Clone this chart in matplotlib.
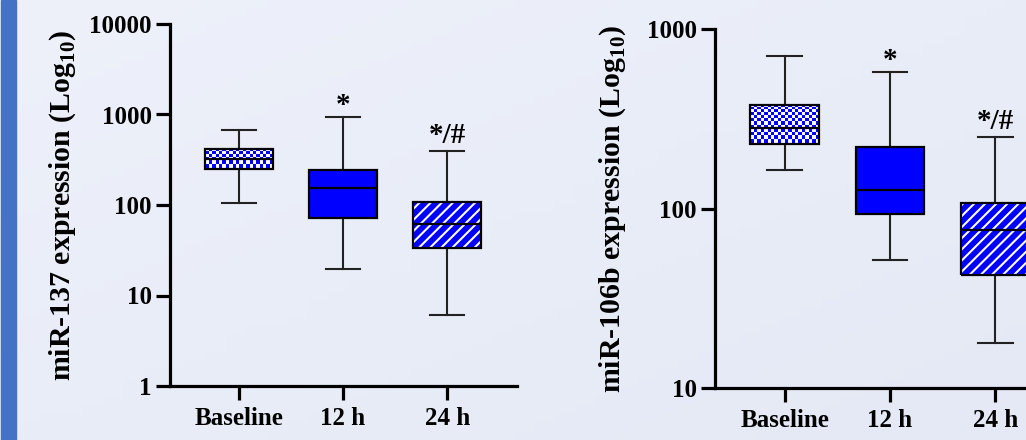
import numpy as np
import matplotlib
matplotlib.use("Agg")
import matplotlib.pyplot as plt
from matplotlib.colors import ListedColormap, LinearSegmentedColormap
from matplotlib.patches import PathPatch, Rectangle

plt.rcParams['font.family'] = ['Liberation Serif', 'DejaVu Serif']
plt.rcParams['font.weight'] = 'bold'
plt.rcParams['mathtext.fontset'] = 'custom'
plt.rcParams['mathtext.rm'] = 'Liberation Serif'
plt.rcParams['mathtext.bf'] = 'Liberation Serif:bold'
plt.rcParams['hatch.linewidth'] = 1.5

groups = ["Baseline", "12 h", "24 h"]
marks = ["", "*", "*/#"]

# miR-137 (left panel)
m137_lo = [106, 19.8, 6.1]
m137_q1 = [248, 71, 33.2]
m137_med = [320, 153, 61.7]
m137_q3 = [419, 241, 109]
m137_hi = [680, 946, 392]

# miR-106b (right panel)
m106_lo = [165, 51.8, 17.9]
m106_q1 = [228, 93.3, 42.6]
m106_med = [282, 127, 76.4]
m106_q3 = [378, 221, 108]
m106_hi = [710, 574, 250]

BLUE = '#0000FF'

fig = plt.figure(figsize=(10.26, 4.40), dpi=100)

# background gradient + blue stripe
bg = fig.add_axes([0, 0, 1, 1], zorder=-10)
bg.axis('off')
grad = np.add.outer(np.linspace(0, 1, 50), np.linspace(0, 1, 50)) / 2
bg.imshow(grad, aspect='auto', extent=(0, 1, 0, 1), origin='upper',
          cmap=LinearSegmentedColormap.from_list('bg', ['#EEF1FA', '#E4E9F5']))
bg.add_patch(Rectangle((1 / 1026, 0), 15 / 1026, 1, color='#4472C4'))
bg.set_xlim(0, 1)
bg.set_ylim(0, 1)


def panel(rect, lo, q1, med, q3, hi, ylim, yticks, ylabel, labelpad):
    ax = fig.add_axes(rect)
    ax.patch.set_alpha(0)
    ax.set_yscale('log')
    stats = []
    for i in range(len(groups)):
        stats.append(dict(whislo=lo[i], q1=q1[i], med=med[i], q3=q3[i],
                          whishi=hi[i], label=groups[i]))
    pos = np.arange(len(groups))
    bp = ax.bxp(stats, positions=pos, widths=0.65, patch_artist=True,
                showfliers=False,
                boxprops=dict(facecolor='none', edgecolor='black', linewidth=1.6),
                medianprops=dict(color='black', linewidth=1.6),
                whiskerprops=dict(color='#222222', linewidth=1.5),
                capprops=dict(color='#222222', linewidth=1.5))
    for b in bp['boxes']:
        b.set_zorder(3)
    for m in bp['medians']:
        m.set_zorder(4)
    ax.set_xlim(-0.66, 2.67)
    ax.set_ylim(*ylim)

    # baseline: checkerboard fill clipped to the box
    box0 = bp['boxes'][0]
    x0, x1 = pos[0] - 0.325, pos[0] + 0.325
    p0 = ax.transData.transform((x0, q1[0]))
    p1 = ax.transData.transform((x1, q3[0]))
    nx = max(int(round(abs(p1[0] - p0[0]) / 3.4)), 2)
    ny = max(int(round(abs(p1[1] - p0[1]) / 3.4)), 2)
    checker = np.indices((ny, nx)).sum(axis=0) % 2
    im = ax.imshow(checker, extent=(x0, x1, q1[0], q3[0]), aspect='auto',
                   interpolation='nearest', origin='lower',
                   cmap=ListedColormap([BLUE, 'white']), zorder=2)
    im.set_clip_path(box0)

    # 12 h: solid blue
    bp['boxes'][1].set_facecolor(BLUE)

    # 24 h: blue with white diagonal hatch
    box2 = bp['boxes'][2]
    ax.add_patch(PathPatch(box2.get_path(), facecolor=BLUE, edgecolor='white',
                           linewidth=0, hatch='///', zorder=2))

    ax.set_xlim(-0.66, 2.67)
    ax.set_ylim(*ylim)
    ax.set_yticks(yticks)
    ax.set_yticklabels([str(t) for t in yticks])
    ax.minorticks_off()
    ax.set_xticks(pos)
    ax.set_xticklabels(groups)

    for s in ['top', 'right']:
        ax.spines[s].set_visible(False)
    for s in ['left', 'bottom']:
        ax.spines[s].set_linewidth(2.3)
    ax.tick_params(width=2.3, length=10, labelsize=18, pad=3)
    ax.tick_params(axis='x', pad=5)
    for t in ax.get_xticklabels() + ax.get_yticklabels():
        t.set_fontweight('bold')

    ax.set_ylabel(ylabel, fontsize=21.5, fontweight='bold', labelpad=labelpad)

    for i, m in enumerate(marks):
        if m:
            off = 3 if m == '*' else 6
            ax.annotate(m, (pos[i], hi[i]), xytext=(0, off),
                        textcoords='offset points', ha='center', va='baseline',
                        fontsize=21, fontweight='bold')
    return ax


ax1 = panel([170 / 1026, 54 / 440, 347 / 1026, 362 / 440],
            m137_lo, m137_q1, m137_med, m137_q3, m137_hi,
            (1, 10000), [1, 10, 100, 1000, 10000],
            r'miR-137 expression (Log$_{10}$)', 8)
ax2 = panel([715 / 1026, 51.7 / 440, 351 / 1026, 359.3 / 440],
            m106_lo, m106_q1, m106_med, m106_q3, m106_hi,
            (10, 1000), [10, 100, 1000],
            r'miR-106b expression (Log$_{10}$)', 14)

fig.savefig("out.png", dpi=100)
